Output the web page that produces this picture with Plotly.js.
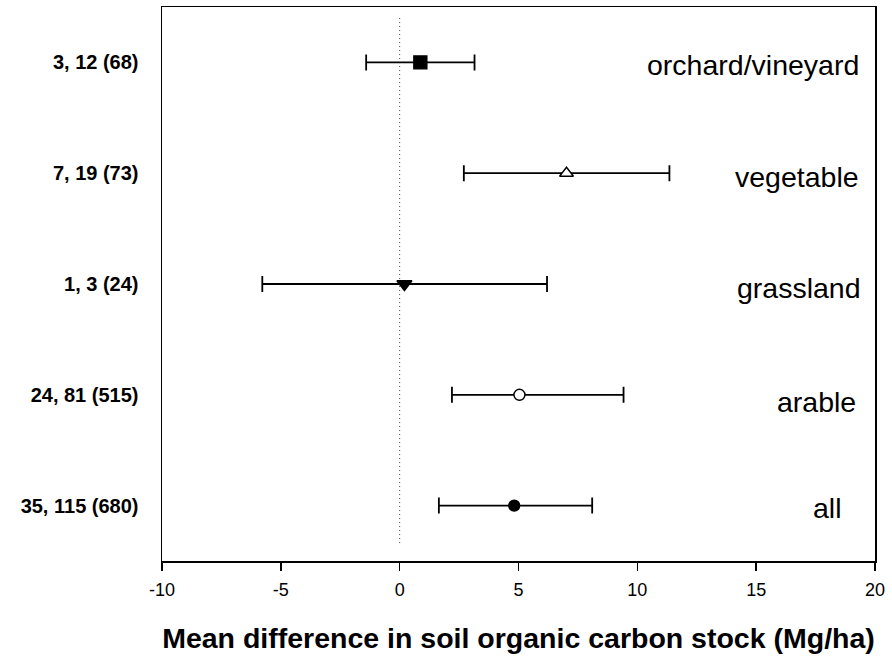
<!DOCTYPE html>
<html>
<head>
<meta charset="utf-8">
<script src="https://cdn.plot.ly/plotly-3.0.1.min.js"></script>
<style>html,body{margin:0;padding:0;background:#fff;}#chart{width:892px;height:660px;}</style>
</head>
<body>
<div id="chart"></div>
<script>
// Data (top to bottom)
const landUse = ["orchard/vineyard", "vegetable", "grassland", "arable", "all"];
const countLabels = ["3, 12 (68)", "7, 19 (73)", "1, 3 (24)", "24, 81 (515)", "35, 115 (680)"];
const meanDiff = [0.87, 7.02, 0.2, 5.04, 4.82];
const ciLower = [-1.41, 2.7, -5.78, 2.2, 1.65];
const ciUpper = [3.15, 11.35, 6.2, 9.42, 8.1];
const xTicks = [-10, -5, 0, 5, 10, 15, 20];

// Styles
const symbols = ["square", "triangle-up", "triangle-down", "circle", "circle"];
const fills = ["#000000", "#ffffff", "#000000", "#ffffff", "#000000"];
const sizes = [13, 12, 13, 11, 11];
const labelRight = [19.4, 19.4, 19.5, 19.3, 18.7];
const labelShift = [-3, -4, -4, -7, -2];

const trace = {
  type: "scatter",
  mode: "markers",
  x: meanDiff,
  y: countLabels,
  error_x: {
    type: "data",
    symmetric: false,
    array: ciUpper.map((u, i) => u - meanDiff[i]),
    arrayminus: ciLower.map((l, i) => meanDiff[i] - l),
    color: "#000000",
    thickness: 1.8,
    width: 8
  },
  marker: {
    symbol: symbols,
    color: fills,
    size: sizes,
    opacity: 1,
    line: {color: "#000000", width: 1.4}
  },
  hoverinfo: "x+y",
  showlegend: false
};

const annotations = landUse.map((name, i) => ({
  x: labelRight[i], y: countLabels[i], xref: "x", yref: "y",
  text: name, showarrow: false, xanchor: "right", yanchor: "middle",
  yshift: labelShift[i],
  font: {family: "Liberation Sans, Arial, sans-serif", size: 28.5, color: "#000"}
}));

const layout = {
  width: 892, height: 660,
  margin: {l: 162, r: 17, t: 7, b: 99},
  paper_bgcolor: "#ffffff", plot_bgcolor: "#ffffff",
  font: {family: "Liberation Sans, Arial, sans-serif", color: "#000"},
  xaxis: {
    range: [-10, 20],
    tickvals: xTicks,
    ticktext: xTicks.map(String),
    ticks: "outside", ticklen: 8, tickwidth: 1.5, tickcolor: "#000",
    ticklabelstandoff: 4,
    showline: true, mirror: true, linecolor: "#000", linewidth: 1.5,
    showgrid: false, zeroline: false,
    tickfont: {size: 18, color: "#000"},
    title: {
      text: "<b>Mean difference in soil organic carbon stock (Mg/ha)</b>",
      font: {size: 28.5, color: "#000"},
      standoff: 29
    }
  },
  yaxis: {
    type: "category",
    categoryorder: "array",
    categoryarray: countLabels,
    range: [4.5, -0.5],
    ticks: "", ticklabelstandoff: 18,
    showline: true, mirror: true, linecolor: "#000", linewidth: 1.5,
    showgrid: false, zeroline: false,
    tickfont: {size: 20, color: "#000", weight: "bold"}
  },
  shapes: [{
    type: "line", xref: "x", yref: "y",
    x0: 0, x1: 0, y0: -0.4, y1: 4.36,
    line: {color: "#444", width: 1, dash: "1px,3px"},
    layer: "below"
  }],
  annotations: annotations
};

Plotly.newPlot("chart", [trace], layout, {displayModeBar: false, staticPlot: true});
</script>
</body>
</html>
